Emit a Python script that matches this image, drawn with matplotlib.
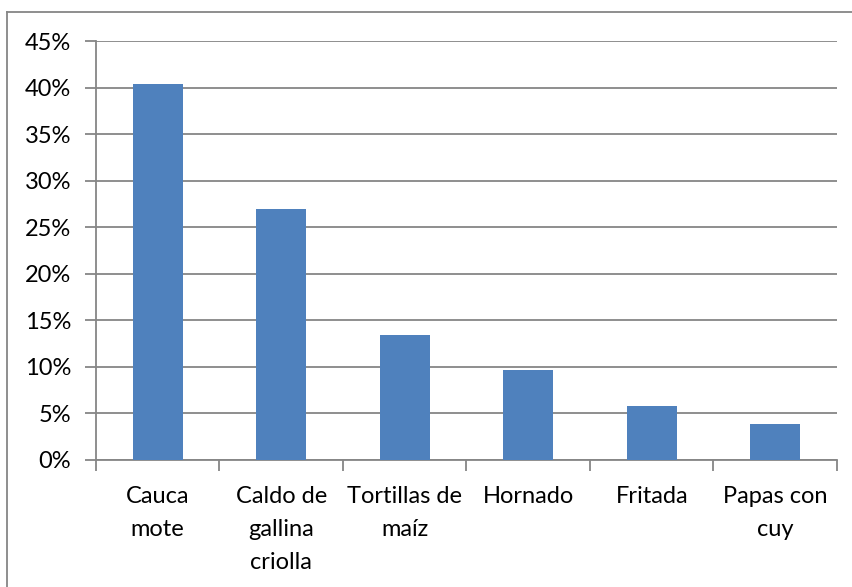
import matplotlib
matplotlib.use("Agg")
import matplotlib.pyplot as plt
from matplotlib.lines import Line2D
from matplotlib.ticker import FixedLocator, PercentFormatter

# share of respondents per traditional dish (n = 52)
dishes = ["Cauca\nmote", "Caldo de\ngallina\ncriolla", "Tortillas de\nmaíz",
          "Hornado", "Fritada", "Papas con\ncuy"]
shares = [21 / 52, 14 / 52, 7 / 52, 5 / 52, 3 / 52, 2 / 52]
yticks = [0, 0.05, 0.10, 0.15, 0.20, 0.25, 0.30, 0.35, 0.40, 0.45]

BAR = "#4F81BD"
GRAY = "#868686"

plt.rcParams["font.family"] = ["Lato", "DejaVu Sans"]

W, H = 853, 587
fig = plt.figure(figsize=(W / 100, H / 100), dpi=100)
ax = fig.add_axes([96 / W, 1 - 460 / H, (837 - 96) / W, (460 - 41) / H])

x = range(len(dishes))
ax.bar(x, shares, width=0.405, color=BAR, zorder=3)

ax.set_xlim(-0.5, len(dishes) - 0.5)
ax.set_ylim(0, 0.45)
ax.set_yticks(yticks)
ax.yaxis.set_major_formatter(PercentFormatter(1.0, decimals=0))
ax.grid(axis="y", color=GRAY, linewidth=1.3, zorder=0)

# category labels sit between the boundary ticks
ax.xaxis.set_major_locator(FixedLocator([i - 0.5 for i in range(len(dishes) + 1)]))
ax.set_xticklabels([])
ax.set_xticks(list(x), minor=True)
ax.set_xticklabels(dishes, minor=True, fontsize=17, linespacing=1.68, va="top")
ax.tick_params(axis="x", which="minor", length=0, pad=19)
ax.tick_params(axis="x", which="major", length=8, width=1.3, color=GRAY)
ax.tick_params(axis="y", length=8, width=1.3, color=GRAY, labelsize=17, pad=10)

for s in ("top", "right"):
    ax.spines[s].set_visible(False)
for s in ("left", "bottom"):
    ax.spines[s].set_color(GRAY)
    ax.spines[s].set_linewidth(1.3)

# outer chart frame
fig.add_artist(Line2D([7.5 / W, 7.5 / W], [0, 1 - 11.5 / H], transform=fig.transFigure,
                      color=GRAY, linewidth=1.3))
fig.add_artist(Line2D([7.5 / W, 1], [1 - 11.5 / H, 1 - 11.5 / H], transform=fig.transFigure,
                      color=GRAY, linewidth=1.3))

fig.savefig("out.png", dpi=100)
